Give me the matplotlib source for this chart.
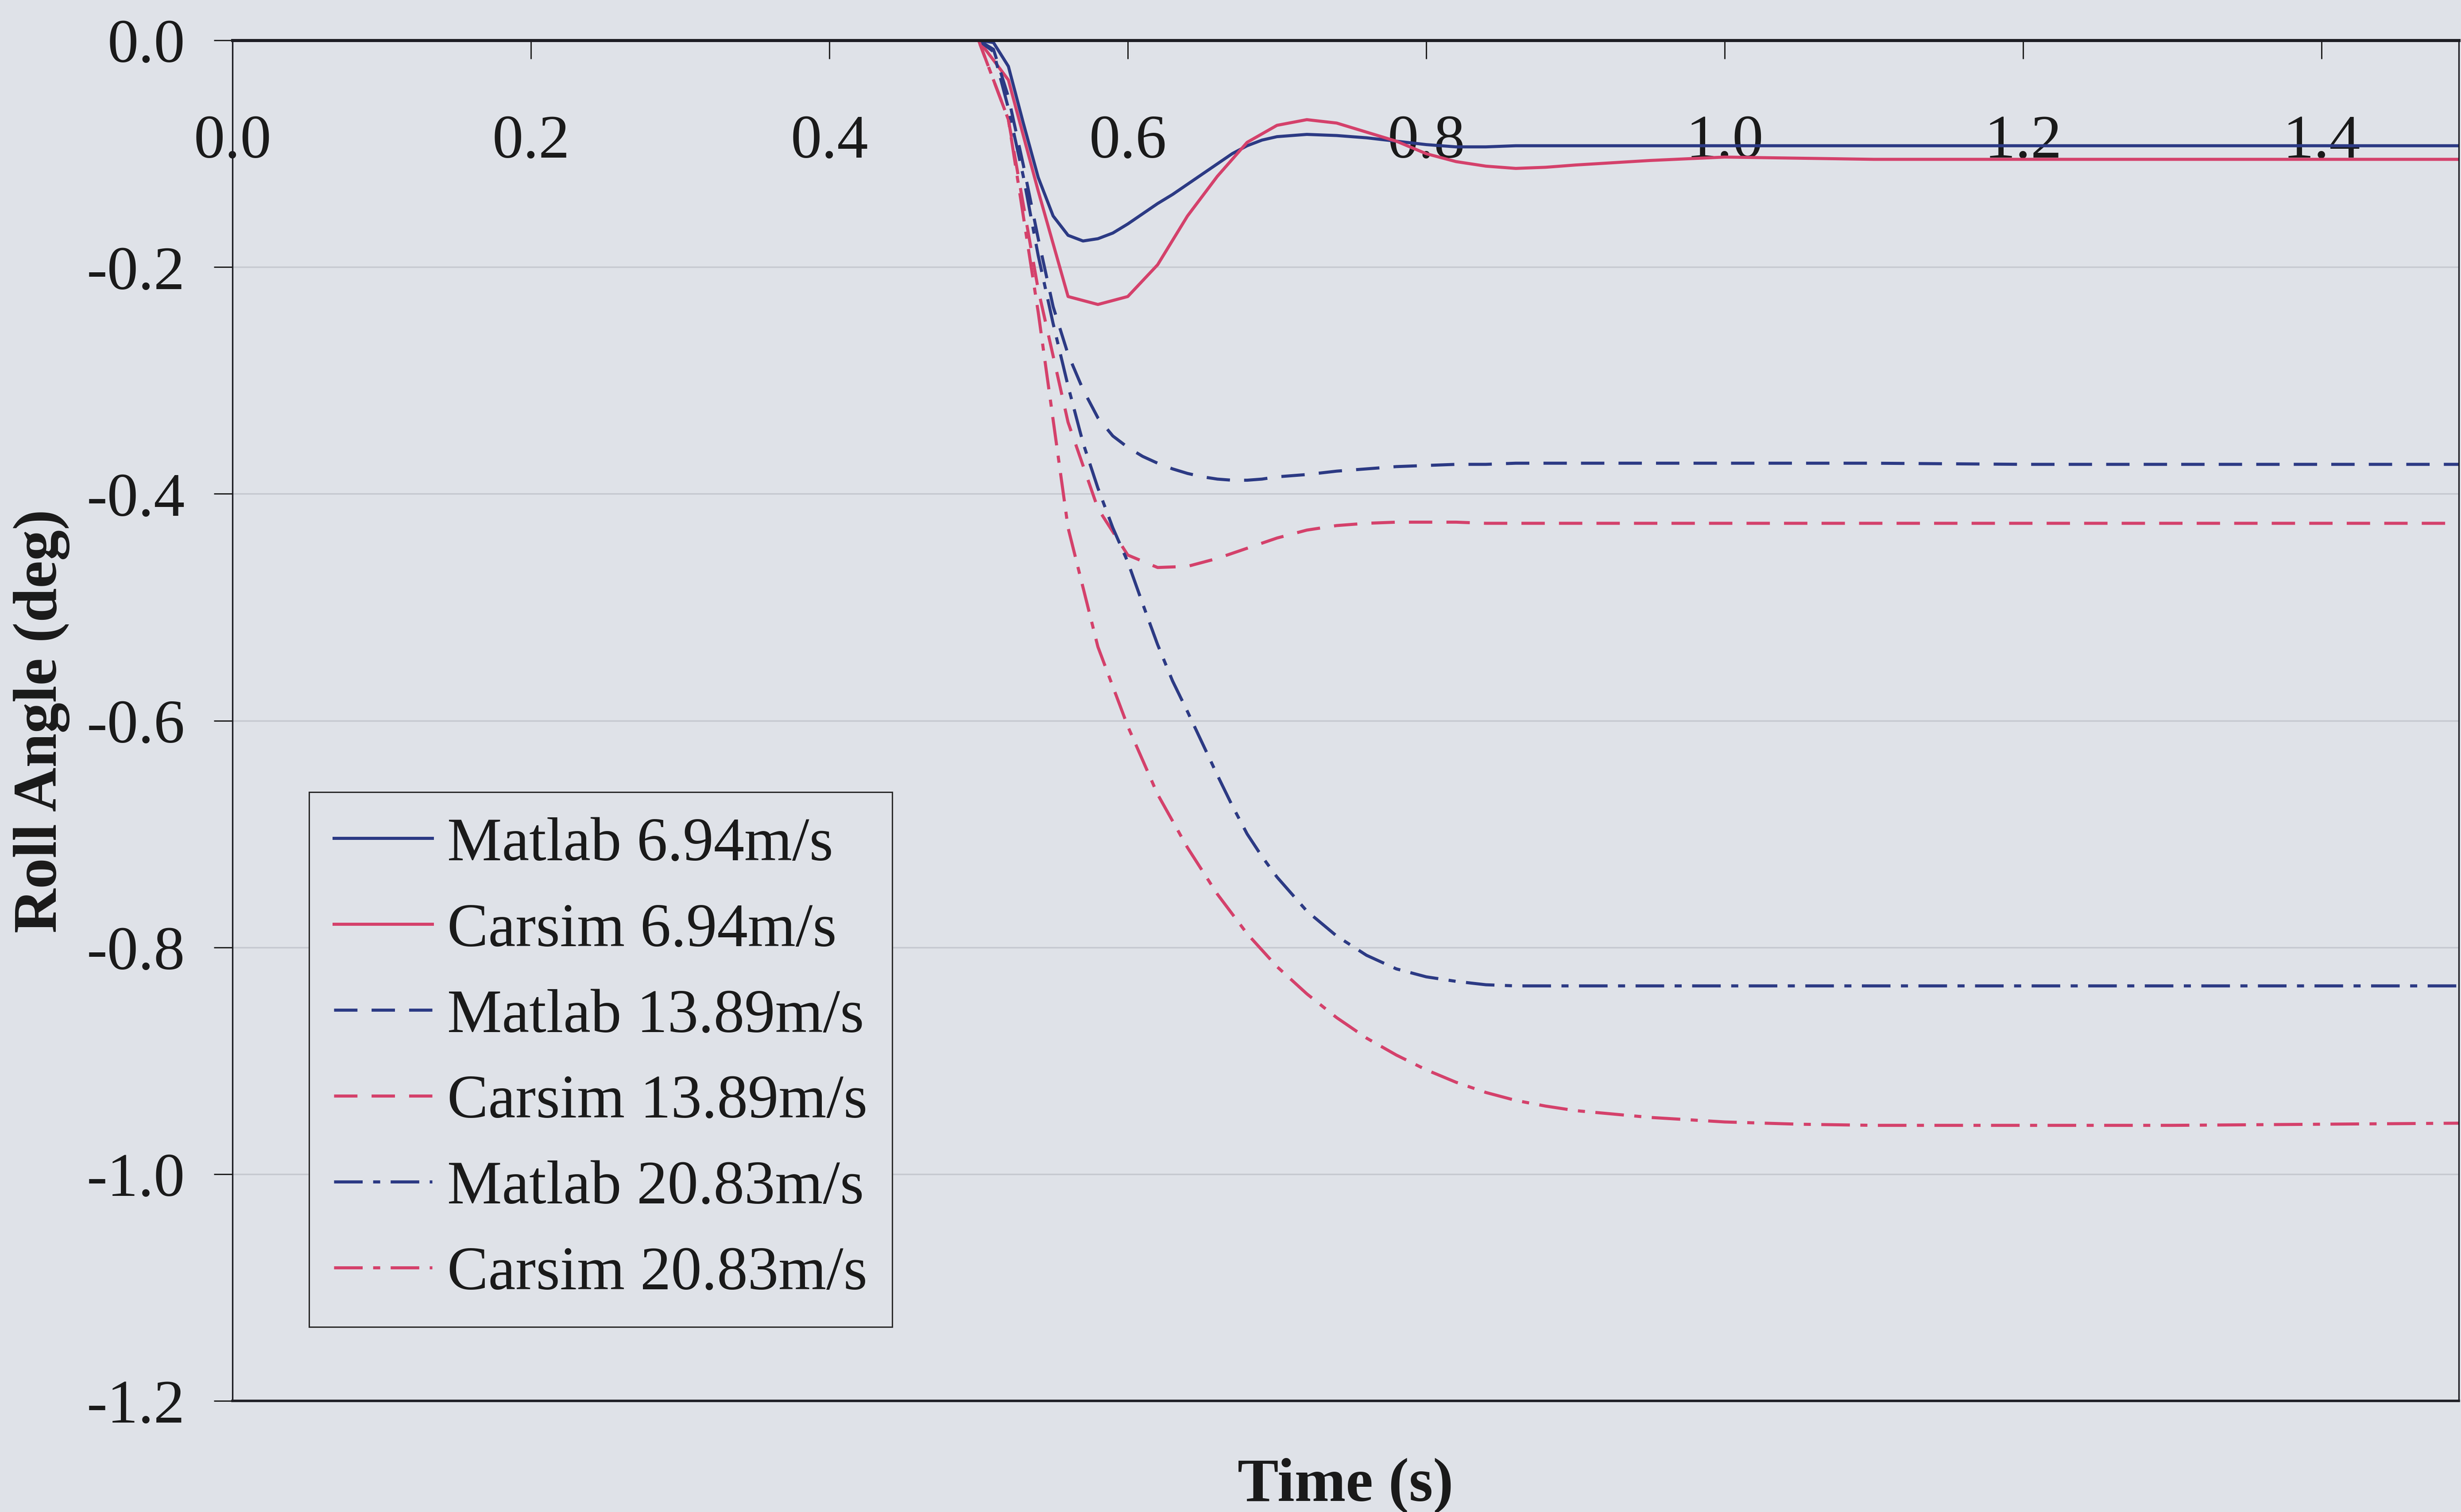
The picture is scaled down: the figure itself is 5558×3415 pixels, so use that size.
import matplotlib
matplotlib.use("Agg")
import matplotlib.pyplot as plt
from matplotlib.ticker import FixedLocator, FormatStrFormatter

# --- data -------------------------------------------------------------------
# Matlab model output (fine time step)
time_matlab = [0.0, 0.50, 0.51, 0.52, 0.53, 0.54, 0.55, 0.56, 0.57, 0.58, 0.59,
               0.60, 0.61, 0.62, 0.63, 0.64, 0.65, 0.66, 0.67, 0.68, 0.69, 0.70,
               0.72, 0.74, 0.76, 0.78, 0.80, 0.82, 0.84, 0.86, 0.90, 1.0, 1.1,
               1.2, 1.3, 1.4, 1.5]
matlab_694 = [0.0, 0.0, -0.002, -0.023, -0.073, -0.121, -0.155, -0.172, -0.177,
              -0.175, -0.170, -0.162, -0.153, -0.144, -0.136, -0.127, -0.118,
              -0.109, -0.100, -0.093, -0.088, -0.085, -0.083, -0.084, -0.086,
              -0.089, -0.092, -0.094, -0.094, -0.093, -0.093, -0.093, -0.093,
              -0.093, -0.093, -0.093, -0.093]
matlab_1389 = [0.0, 0.0, -0.008, -0.050, -0.110, -0.175, -0.235, -0.277, -0.308,
               -0.333, -0.349, -0.359, -0.367, -0.373, -0.378, -0.382, -0.385,
               -0.387, -0.388, -0.388, -0.387, -0.385, -0.383, -0.380, -0.378,
               -0.376, -0.375, -0.374, -0.374, -0.373, -0.373, -0.373, -0.373,
               -0.374, -0.374, -0.374, -0.374]
matlab_2083 = [0.0, 0.0, -0.010, -0.060, -0.120, -0.190, -0.250, -0.305, -0.355,
               -0.395, -0.430, -0.460, -0.497, -0.533, -0.565, -0.592, -0.620,
               -0.648, -0.675, -0.700, -0.720, -0.738, -0.768, -0.790, -0.807,
               -0.819, -0.826, -0.830, -0.833, -0.834, -0.834, -0.834, -0.834,
               -0.834, -0.834, -0.834, -0.834]

# CarSim output (0.02 s output step)
time_carsim = [0.0, 0.50, 0.52, 0.54, 0.56, 0.58, 0.60, 0.62, 0.64, 0.66, 0.68,
               0.70, 0.72, 0.74, 0.76, 0.78, 0.80, 0.82, 0.84, 0.86, 0.88, 0.90,
               0.95, 1.0, 1.05, 1.1, 1.2, 1.3, 1.4, 1.5]
carsim_694 = [0.0, 0.0, -0.035, -0.133, -0.226, -0.233, -0.226, -0.198, -0.155,
              -0.120, -0.090, -0.075, -0.070, -0.073, -0.081, -0.089, -0.100,
              -0.107, -0.111, -0.113, -0.112, -0.110, -0.106, -0.103, -0.104,
              -0.105, -0.105, -0.105, -0.105, -0.105]
carsim_1389 = [0.0, 0.0, -0.070, -0.220, -0.337, -0.413, -0.454, -0.465, -0.464,
               -0.457, -0.448, -0.439, -0.432, -0.428, -0.426, -0.425, -0.425,
               -0.425, -0.426, -0.426, -0.426, -0.426, -0.426, -0.426, -0.426,
               -0.426, -0.426, -0.426, -0.426, -0.426]
carsim_2083 = [0.0, 0.0, -0.070, -0.240, -0.430, -0.535, -0.605, -0.665, -0.712,
               -0.753, -0.788, -0.817, -0.841, -0.862, -0.880, -0.895, -0.908,
               -0.919, -0.928, -0.935, -0.940, -0.944, -0.950, -0.954, -0.956,
               -0.957, -0.957, -0.957, -0.956, -0.955]

series_labels = ["Matlab 6.94m/s", "Carsim 6.94m/s", "Matlab 13.89m/s",
                 "Carsim 13.89m/s", "Matlab 20.83m/s", "Carsim 20.83m/s"]

x_ticks = [0.0, 0.2, 0.4, 0.6, 0.8, 1.0, 1.2, 1.4]
y_ticks = [0.0, -0.2, -0.4, -0.6, -0.8, -1.0, -1.2]

# --- style ------------------------------------------------------------------
plt.rcParams["font.family"] = ["Liberation Serif", "DejaVu Serif"]
plt.rcParams["axes.unicode_minus"] = False

BG = "#dfe2e8"
BLUE = "#2c3a84"
RED = "#d4416b"
LW = 5.0
DASH = (7.6, 4.6)
DASHDOT = (9.3, 3.4, 2.3, 3.4)

fig = plt.figure(figsize=(55.58, 34.16), dpi=100, facecolor=BG)
W, H = 5558, 3416
ax_left, ax_right = 525, 5553
ax_top, ax_bottom = 92, 3165
ax = fig.add_axes([ax_left / W, 1 - ax_bottom / H,
                   (ax_right - ax_left) / W, (ax_bottom - ax_top) / H])
ax.set_facecolor(BG)

styles = [
    (time_matlab, matlab_694, BLUE, None),
    (time_carsim, carsim_694, RED, None),
    (time_matlab, matlab_1389, BLUE, DASH),
    (time_carsim, carsim_1389, RED, DASH),
    (time_matlab, matlab_2083, BLUE, DASHDOT),
    (time_carsim, carsim_2083, RED, DASHDOT),
]
for (t, v, col, dashes), lab in zip(styles, series_labels):
    line, = ax.plot(t, v, color=col, lw=LW, label=lab, solid_joinstyle="round")
    if dashes is not None:
        line.set_dashes(dashes)
        line.set_dash_capstyle("butt")

ax.set_xlim(0, 1.492)
ax.set_ylim(-1.2, 0.0)

# horizontal gridlines
ax.yaxis.set_major_locator(FixedLocator(y_ticks))
ax.yaxis.set_major_formatter(FormatStrFormatter("%.1f"))
ax.grid(axis="y", color="#c6c9d0", lw=2.5)
ax.set_axisbelow(True)

# x axis: ticks hang down from the top border, labels sit inside the plot
ax.xaxis.set_major_locator(FixedLocator(x_ticks))
ax.xaxis.set_major_formatter(FormatStrFormatter("%.1f"))
ax.xaxis.set_ticks_position("top")
ax.tick_params(axis="x", direction="in", length=30, width=2.2, color="#222222",
               labeltop=True, labelbottom=False, labelsize=101, pad=-212,
               labelcolor="#1a1a1a")
ax.tick_params(axis="y", direction="out", length=30, width=2.2, color="#222222",
               labelsize=101, pad=47, labelcolor="#1a1a1a")

for side, w in (("top", 5.0), ("bottom", 4.0), ("left", 2.4), ("right", 2.4)):
    ax.spines[side].set_linewidth(w)
    ax.spines[side].set_color("#1e1e24")

ax.set_xlabel("Time (s)", fontsize=100, fontweight="bold", color="#1a1a1a",
              labelpad=92)
ax.xaxis.set_label_position("bottom")
ax.set_ylabel("Roll Angle (deg)", fontsize=100, fontweight="bold",
              color="#1a1a1a", labelpad=27)

leg = ax.legend(loc="upper left", bbox_to_anchor=(698 / W, 1 - 1790 / H),
                bbox_transform=fig.transFigure, borderaxespad=0,
                fontsize=100, frameon=True, fancybox=False, shadow=False,
                facecolor=BG, edgecolor="#2a2a2a", framealpha=1,
                handlelength=1.6, handletextpad=0.25, borderpad=0.4,
                labelspacing=0.48)
leg.get_frame().set_linewidth(2.2)
for txt in leg.get_texts():
    txt.set_color("#1a1a1a")

fig.savefig("out.png", dpi=100, facecolor=BG)
